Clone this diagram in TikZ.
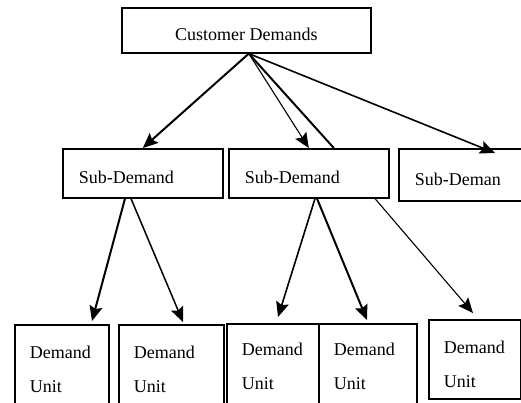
\documentclass[tikz,border=0pt]{standalone}
\usepackage{fontspec}
\setmainfont{Liberation Serif}
\usepackage{tikz}
\usetikzlibrary{arrows.meta,positioning,calc}

\begin{document}
\begin{tikzpicture}[x=1pt,y=-1pt,
    box/.style={draw, line width=1.6pt, inner sep=0pt, anchor=north west,
        font=\fontsize{18}{34}\selectfont},
    subbox/.style={box, text width=#1, inner xsep=16pt, minimum height=49pt,
        align=left, text height=21pt, text depth=0pt},
    unitbox/.style={box, text width=#1, inner xsep=15pt, align=left,
        text height=34pt, text depth=60pt},
    link/.style={line width=1.1pt, -{Stealth[length=15pt,width=13pt,inset=2.5pt]}},
    boldlink/.style={line width=2pt, -{Stealth[length=15pt,width=13pt,inset=2.5pt]}}
]
    \useasboundingbox (0,0) rectangle (521,402);
    \clip (0,0) rectangle (521,402);

    % oberste Ebene
    \node[box, minimum width=249pt, minimum height=45pt,
        text height=21pt, text depth=0pt] (cust) at (121,7) {Customer Demands};
    \coordinate (hub) at ([xshift=2.5pt]cust.south);

    % Teilanforderungen
    \node[subbox=128pt] (sub1) at (62,148) {Sub-Demand};
    \node[subbox=128pt] (sub2) at (228,148) {Sub-Demand};
    \node[subbox=200pt, minimum height=52pt] (sub3) at (398,148) {Sub-Deman};

    % Einheiten
    \node[unitbox=64pt] (unit1) at (14,324) {Demand\\Unit};
    \node[unitbox=75pt] (unit2) at (118,324) {Demand\\Unit};
    \node[unitbox=62pt, text height=32pt] (unit3) at (226,323) {Demand\\Unit};
    \node[unitbox=68pt, text height=32pt] (unit4) at (318,323) {Demand\\Unit};
    \node[unitbox=62pt, text depth=45pt] (unit5) at (428,319) {Demand\\Unit};

    % Verbindungen
    \draw[boldlink] (hub) -- (sub1.north);
    \draw[link] (hub) -- (sub2.north);
    \draw[line width=2pt] (hub) -- ([xshift=25pt]sub2.north);
    \draw[link, line width=1.6pt] (hub) -- ([xshift=97pt,yshift=-5pt]sub3.north west);

    \draw[boldlink] ([xshift=63pt]sub1.south west) -- ([xshift=78pt,yshift=3pt]unit1.north west);
    \draw[link, line width=1.5pt] ([xshift=69pt]sub1.south west) -- ([xshift=65pt,yshift=2pt]unit2.north west);
    \draw[link, line width=1.6pt] ([xshift=87pt]sub2.south west) -- ([xshift=52pt,yshift=6pt]unit3.north west);
    \draw[boldlink] ([xshift=89pt]sub2.south west) -- ([xshift=49pt,yshift=3pt]unit4.north west);
    \draw[link] ([xshift=147pt]sub2.south west) -- ([xshift=45pt,yshift=6pt]unit5.north west);
\end{tikzpicture}
\end{document}
